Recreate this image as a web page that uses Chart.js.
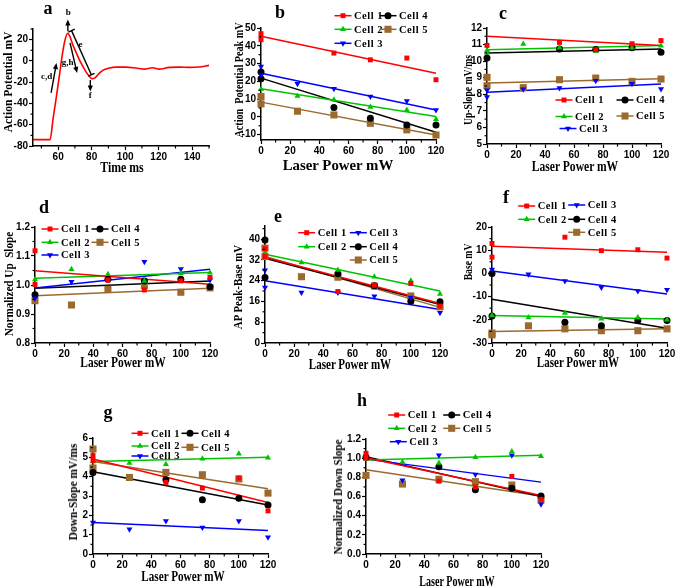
<!DOCTYPE html>
<html>
<head>
<meta charset="utf-8">
<script src="https://cdn.jsdelivr.net/npm/chart.js@4.4.0/dist/chart.umd.min.js"></script>
<style>
  html, body { margin: 0; padding: 0; background: #fff; }
  #page { position: relative; width: 675px; height: 587px; overflow: hidden; background: #fff; }
  canvas { position: absolute; }
  .lbl { position: absolute; font-family: 'Liberation Serif', 'Times New Roman', serif; font-weight: bold;
         color: #000; white-space: pre; line-height: 1; }
</style>
</head>
<body>
<div id="page"></div>
<script>
// values
var cells = ['Cell 1', 'Cell 2', 'Cell 3', 'Cell 4', 'Cell 5'];
var powerTicks = [0, 20, 40, 60, 80, 100, 120];
var fitX = [0, 120];

// a: action potential trace
var traceTime = [45, 55.2, 57, 59, 61, 62.5, 64, 65.7, 67, 68.7, 70.7, 72.7, 74.7, 76.7, 78.7, 80.2, 82, 84, 86.6, 90.6,
                 94.5, 100.5, 106.4, 111.4, 116.3, 120.3, 126.3, 132.2, 138.2, 144.1, 150];
var traceMv = [-74, -74, -54, -33, -11, 6, 19, 26, 23, 15.3, 8, 1, -5, -10.5, -14.6, -16.8, -16, -12.5, -8.9, -6.7,
               -5.8, -5.8, -6.7, -7.7, -6.4, -7.7, -6.1, -5.8, -6.1, -5.8, -4.2];
var aTimeTicks = [60, 80, 100, 120, 140];
var aMvTicks = [-80, -60, -40, -20, 0, 20];

// b: action potential peak (mV); points [power, value] per cell, fits [at 0, at 120]
var bPts = [
  [[0, 46.8], [0, 43.4], [50, 35.9], [75, 32.1], [100, 33.1], [120, 20.9]],
  [[0, 15.6], [25, 11.7], [50, 9.6], [75, 5.5], [100, 3.9], [120, -1.3]],
  [[0, 28.4], [0, 23.5], [25, 18.6], [50, 15.8], [75, 11.5], [100, 9], [120, 3.9]],
  [[0, 25.2], [0, 21.4], [50, 5.3], [75, -0.8], [100, -4.5], [120, -4.5]],
  [[0, 11.5], [0, 7.3], [25, 3.2], [50, 1.1], [75, -3.6], [100, -7.3], [120, -10.2]]
];
var bFit = [[45.3, 24.6], [15.8, 0.2], [24.6, 3.9], [21.8, -8.6], [8.3, -10.2]];
var bTicks = [-10, 0, 10, 20, 30, 40, 50];

// c: up-slope (mV/ms)
var cPts = [
  [[0, 10.95], [50, 11.13], [75, 10.69], [100, 11.05], [120, 11.24]],
  [[0, 10.65], [0, 10.5], [25, 11.03], [50, 10.81], [75, 10.59], [100, 10.81], [120, 10.93]],
  [[0, 8.24], [0, 7.83], [25, 8.3], [50, 8.38], [75, 8.82], [100, 8.64], [120, 8.32]],
  [[0, 10.19], [50, 10.73], [75, 10.7], [100, 10.81], [120, 10.53]],
  [[0, 9.02], [0, 8.52], [25, 8.4], [50, 8.88], [75, 8.98], [100, 8.78], [120, 8.92]]
];
var cFit = [[11.5, 10.95], [10.69, 10.95], [8.12, 8.62], [10.49, 10.73], [8.68, 8.94]];
var cTicks = [5, 6, 7, 8, 9, 10, 11, 12];

// d: normalized up slope
var dPts = [
  [[0, 1.118], [0, 1.002], [50, 1.017], [75, 0.983], [100, 1.014], [120, 1.026]],
  [[0, 1.019], [25, 1.054], [50, 1.037], [75, 1.014], [100, 1.04], [120, 1.042]],
  [[0, 0.954], [25, 1.011], [50, 1.02], [75, 1.08], [100, 1.055], [120, 1.017]],
  [[0, 0.966], [50, 1.02], [75, 1.014], [100, 1.02], [120, 0.994]],
  [[0, 0.946], [25, 0.931], [50, 0.985], [75, 0.998], [100, 0.975], [120, 0.99]]
];
var dFit = [[1.049, 1.003], [1.023, 1.043], [0.99, 1.054], [0.989, 1.014], [0.963, 0.989]];
var dTicks = [0.8, 0.9, 1.0, 1.1, 1.2];

// e: AP peak-base (mV)
var ePts = [
  [[0, 36.3], [0, 33.3], [50, 19.8], [75, 22.2], [100, 22.9], [120, 14.2]],
  [[0, 34.9], [25, 31], [50, 28.1], [75, 25.5], [100, 23.9], [120, 18.8]],
  [[0, 28], [0, 21.3], [25, 19.4], [50, 19.4], [75, 18], [100, 17.5], [120, 11.6]],
  [[0, 39.6], [0, 25.2], [50, 26.6], [75, 22], [100, 16.1], [120, 15.9]],
  [[0, 36.5], [0, 33.3], [25, 25.5], [50, 25.3], [75, 21.9], [100, 18.1], [120, 13.9]]
];
var eFit = [[33, 15.2], [34.1, 20], [23.9, 12.9], [32.6, 14.8], [33.3, 13.7]];
var eTicks = [0, 8, 16, 24, 32, 40];

// f: base (mV)
var fPts = [
  [[0, 12.9], [0, 7], [50, 15.6], [75, 9.8], [100, 10.2], [120, 6.6]],
  [[0, -18.1], [25, -19], [50, -17.1], [75, -19.6], [100, -19], [120, -20]],
  [[0, 1.7], [25, -0.4], [50, -3.3], [75, -6.1], [100, -7.6], [120, -7.1]],
  [[0, 0], [0, -18.4], [50, -21.1], [75, -22.6], [100, -20.3], [120, -20.3]],
  [[0, -25.7], [0, -26.5], [25, -22.6], [50, -23.9], [75, -24.7], [100, -24.7], [120, -23.9]]
];
var fFit = [[11.7, 9.1], [-18.1, -19.7], [1, -8.9], [-11.1, -23.6], [-25, -23.9]];
var fTicks = [-30, -20, -10, 0, 10, 20];

// g: down-slope (mV/ms)
var gPts = [
  [[0, 5.09], [0, 4.84], [50, 3.7], [75, 3.41], [100, 3.93], [120, 2.23]],
  [[0, 4.78], [25, 4.71], [50, 4.64], [75, 4.93], [100, 5.19], [120, 4.98]],
  [[0, 1.63], [25, 1.28], [50, 1.71], [75, 1.37], [100, 1.71], [120, 0.87]],
  [[0, 4.22], [50, 3.84], [75, 2.8], [100, 2.89], [120, 2.54]],
  [[0, 5.43], [0, 4.45], [25, 3.96], [50, 4.22], [75, 4.1], [100, 3.88], [120, 3.15]]
];
var gFit = [[4.91, 2.66], [4.78, 5.0], [1.63, 1.21], [4.26, 2.53], [4.78, 3.37]];
var gTicks = [0, 1, 2, 3, 4, 5, 6];

// h: normalized down slope
var hPts = [
  [[0, 1.05], [0, 1.0], [50, 0.76], [75, 0.7], [100, 0.81], [120, 0.57]],
  [[0, 0.99], [25, 0.96], [50, 0.95], [75, 1.01], [100, 1.07], [120, 1.02]],
  [[0, 1.0], [25, 0.77], [50, 1.03], [75, 0.83], [100, 1.03], [120, 0.52]],
  [[0, 1.01], [50, 0.91], [75, 0.67], [100, 0.685], [120, 0.605]],
  [[0, 0.82], [25, 0.73], [50, 0.78], [75, 0.755], [100, 0.72], [120, 0.565]]
];
var hFit = [[1.005, 0.61], [0.98, 1.03], [0.99, 0.75], [1.015, 0.6], [0.88, 0.605]];
var hTicks = [0, 0.2, 0.4, 0.6, 0.8, 1.0, 1.2];

// annotations on the trace (in data units)
var apArrows = [
  {from: [65.8, 28], to: [65.8, 39], head: true},
  {from: [68, 28.5], to: [79.8, -13], caps: true},
  {from: [67.1, 17], to: [71.3, -11.4], head: true},
  {from: [55.8, -30], to: [59, -2], head: true},
  {from: [79.2, -18], to: [79.2, -28.7], head: true}
];
var apNotes = [['b', 66, 45.5], ['e', 73.3, 15.3], ['g,h', 65.6, -2], ['c,d', 53.2, -14.6], ['f', 79.2, -33]];

// ---------------------------------------------------------------
var PAD_L = 35, PAD_R = 15, PAD_T = 35, PAD_B = 25;
var page = document.getElementById('page');

var cellStyles = [
  {color: '#ff0000', style: 'rect', r: 3.5, rot: 0},
  {color: '#00c400', style: 'triangle', r: 3.5, rot: 0},
  {color: '#0000ff', style: 'triangle', r: 3.5, rot: 180},
  {color: '#000000', style: 'circle', r: 3.5, rot: 0},
  {color: '#9c6a2e', style: 'rect', r: 5, rot: 0}
];

function drawMark(ctx, st, x, y) {
  var r = st.r;
  ctx.fillStyle = st.color;
  ctx.beginPath();
  if (st.style == 'rect') {
    var h = r * Math.SQRT1_2;
    ctx.rect(x - h, y - h, 2 * h, 2 * h);
  } else if (st.style == 'circle') {
    ctx.arc(x, y, r, 0, Math.PI * 2);
  } else {
    var d = st.rot ? -1 : 1;
    ctx.moveTo(x, y - d * r);
    ctx.lineTo(x + 0.866 * r, y + d * 0.5 * r);
    ctx.lineTo(x - 0.866 * r, y + d * 0.5 * r);
    ctx.closePath();
  }
  ctx.fill();
}

var minorTicks = {
  id: 'minorTicks',
  afterDraw: function (chart) {
    var ctx = chart.ctx, area = chart.chartArea;
    ctx.save();
    ctx.strokeStyle = '#000';
    ctx.lineWidth = 1.2;
    ['x', 'y'].forEach(function (id) {
      var sc = chart.scales[id];
      var vals = sc.ticks.map(function (t) { return t.value; });
      var step = vals[1] - vals[0];
      for (var v = vals[0] - step / 2; v <= sc.max + 1e-9; v += step) {
        if (v < sc.min - 1e-9) continue;
        var p = sc.getPixelForValue(v);
        ctx.beginPath();
        if (id == 'x') { ctx.moveTo(p, area.bottom); ctx.lineTo(p, area.bottom + 2.5); }
        else { ctx.moveTo(area.left - 2.5, p); ctx.lineTo(area.left, p); }
        ctx.stroke();
      }
    });
    ctx.restore();
  }
};

function legendPlugin(items, ox, oy) {
  return {
    id: 'cellLegend',
    afterDatasetsDraw: function (chart) {
      var ctx = chart.ctx;
      ctx.save();
      ctx.font = 'bold 10.5px "Liberation Serif"';
      ctx.letterSpacing = '0.5px';
      ctx.textBaseline = 'middle';
      items.forEach(function (p, i) {
        var x = p[0] - ox, y = p[1] - oy, st = cellStyles[i];
        ctx.strokeStyle = st.color;
        ctx.lineWidth = 1.5;
        ctx.beginPath();
        ctx.moveTo(x - 8.5, y);
        ctx.lineTo(x + 8.5, y);
        ctx.stroke();
        drawMark(ctx, st, x, y);
        ctx.fillStyle = '#000';
        ctx.fillText(cells[i], x + 11, y + 0.5);
      });
      ctx.restore();
    }
  };
}

var apNotesPlugin = {
  id: 'apNotes',
  afterDatasetsDraw: function (chart) {
    var ctx = chart.ctx, sx = chart.scales.x, sy = chart.scales.y;
    function px(p) { return [sx.getPixelForValue(p[0]), sy.getPixelForValue(p[1])]; }
    ctx.save();
    ctx.strokeStyle = '#000';
    ctx.fillStyle = '#000';
    ctx.lineWidth = 1.4;
    apArrows.forEach(function (a) {
      var f = px(a.from), t = px(a.to);
      var ang = Math.atan2(t[1] - f[1], t[0] - f[0]);
      var ex = a.head ? t[0] - Math.cos(ang) * 4 : t[0], ey = a.head ? t[1] - Math.sin(ang) * 4 : t[1];
      ctx.beginPath(); ctx.moveTo(f[0], f[1]); ctx.lineTo(ex, ey); ctx.stroke();
      if (a.head) {
        ctx.beginPath();
        ctx.moveTo(t[0], t[1]);
        ctx.lineTo(t[0] - Math.cos(ang) * 6 + Math.sin(ang) * 2.6, t[1] - Math.sin(ang) * 6 - Math.cos(ang) * 2.6);
        ctx.lineTo(t[0] - Math.cos(ang) * 6 - Math.sin(ang) * 2.6, t[1] - Math.sin(ang) * 6 + Math.cos(ang) * 2.6);
        ctx.closePath(); ctx.fill();
      }
      if (a.caps) {
        [f, t].forEach(function (q) {
          ctx.beginPath();
          ctx.moveTo(q[0] + Math.sin(ang) * 3.5, q[1] - Math.cos(ang) * 3.5);
          ctx.lineTo(q[0] - Math.sin(ang) * 3.5, q[1] + Math.cos(ang) * 3.5);
          ctx.stroke();
        });
      }
    });
    ctx.font = 'bold 9px "Liberation Serif"';
    ctx.textAlign = 'center';
    ctx.textBaseline = 'middle';
    apNotes.forEach(function (n) {
      var p = px([n[1], n[2]]);
      ctx.fillText(n[0], p[0], p[1]);
    });
    ctx.restore();
  }
};

function axis(min, max, ticks, dec, isX) {
  return {
    type: 'linear', min: min, max: max,
    afterBuildTicks: function (s) { s.ticks = ticks.map(function (v) { return {value: v}; }); },
    afterFit: function (s) { if (isX) s.height = PAD_B; else s.width = PAD_L; },
    border: {color: '#000', width: 1.5},
    grid: {display: true, drawOnChartArea: false, drawTicks: true, tickLength: 4, tickWidth: 1.2, tickColor: '#000'},
    ticks: {
      color: '#000', padding: 1, maxRotation: 0, autoSkip: false,
      font: {family: 'Liberation Sans', weight: 'bold', size: 10},
      callback: function (v) { return Number(v).toFixed(dec); }
    }
  };
}

function makeCanvas(box) {
  var cv = document.createElement('canvas');
  var cw = box[2] - box[0] + PAD_L + PAD_R, ch = box[3] - box[1] + PAD_T + PAD_B;
  cv.width = cw; cv.height = ch;
  cv.style.left = (box[0] - PAD_L) + 'px';
  cv.style.top = (box[1] - PAD_T) + 'px';
  cv.style.width = cw + 'px';
  cv.style.height = ch + 'px';
  page.appendChild(cv);
  return cv;
}

function baseOptions(xs, ys) {
  return {
    responsive: false, animation: false, events: [],
    layout: {padding: {left: 0, right: PAD_R, top: PAD_T, bottom: 0}, autoPadding: false},
    plugins: {legend: {display: false}, tooltip: {enabled: false}},
    scales: {x: xs, y: ys}
  };
}

function makePanel(p) {
  var cv = makeCanvas(p.box);
  var ds = [];
  p.pts.forEach(function (list, i) {
    var st = cellStyles[i];
    ds.push({
      data: list.map(function (q) { return {x: q[0], y: q[1]}; }),
      showLine: false, pointStyle: st.style, pointRadius: st.r, pointRotation: st.rot,
      backgroundColor: st.color, borderColor: st.color, borderWidth: 0, clip: false, order: 0
    });
    ds.push({
      data: fitX.map(function (x, k) { return {x: x, y: p.fit[i][k]}; }),
      showLine: true, pointRadius: 0, borderColor: st.color, borderWidth: 1.5, clip: false, order: 1
    });
  });
  new Chart(cv, {
    type: 'scatter',
    data: {datasets: ds},
    options: baseOptions(axis(0, 120, powerTicks, 0, true), axis(p.yr[0], p.yr[1], p.yt, p.dec, false)),
    plugins: [minorTicks, legendPlugin(p.legend, p.box[0] - PAD_L, p.box[1] - PAD_T)]
  });
}

// panel a
(function () {
  var box = [33, 29, 209, 146];
  var cv = makeCanvas(box);
  new Chart(cv, {
    type: 'scatter',
    data: {datasets: [{
      data: traceTime.map(function (t, i) { return {x: t, y: traceMv[i]}; }),
      showLine: true, pointRadius: 0, borderColor: '#ff0000', borderWidth: 1.6,
      cubicInterpolationMode: 'monotone', clip: false
    }]},
    options: baseOptions(axis(45, 150, aTimeTicks, 0, true), axis(-80, 30, aMvTicks, 0, false)),
    plugins: [minorTicks, apNotesPlugin]
  });
})();

var panels = [
  {box: [261, 28, 436, 140], yr: [-13, 50], yt: bTicks, dec: 0, pts: bPts, fit: bFit,
   legend: [[343, 15.7], [343, 29.3], [343, 43.3], [388, 15.7], [388, 29.3]]},
  {box: [487, 28, 661, 144], yr: [5, 12], yt: cTicks, dec: 0, pts: cPts, fit: cFit,
   legend: [[564, 100], [564, 116.5], [568, 128.5], [625, 100], [625, 116]]},
  {box: [35, 227, 210, 343], yr: [0.8, 1.2], yt: dTicks, dec: 1, pts: dPts, fit: dFit,
   legend: [[50, 229], [50, 242.3], [50, 255], [100, 229], [100, 242.3]]},
  {box: [265, 226, 440, 343], yr: [0, 45], yt: eTicks, dec: 0, pts: ePts, fit: eFit,
   legend: [[306.7, 232.7], [306.7, 246.7], [358.3, 232.7], [358.3, 246.7], [358.3, 260]]},
  {box: [492, 227, 667, 343], yr: [-30, 20], yt: fTicks, dec: 0, pts: fPts, fit: fFit,
   legend: [[526.7, 206], [526.7, 219.3], [576.7, 205], [576.7, 219.3], [576.7, 232.3]]},
  {box: [93, 438, 268, 554], yr: [0, 6], yt: gTicks, dec: 0, pts: gPts, fit: gFit,
   legend: [[140, 433.3], [140, 446], [140, 456], [190, 433.3], [190, 447.3]]},
  {box: [366, 439, 541, 554], yr: [0, 1.2], yt: hTicks, dec: 1, pts: hPts, fit: hFit,
   legend: [[396.7, 415], [396.7, 428.3], [398.3, 441.7], [451.7, 415], [451.7, 428.3]]}
];
panels.forEach(makePanel);

// text: panel letters and axis titles
function addText(str, cx, cy, size, target, vertical) {
  var el = document.createElement('div');
  el.className = 'lbl';
  el.textContent = str;
  el.style.fontSize = size + 'px';
  el.style.left = cx + 'px';
  el.style.top = cy + 'px';
  page.appendChild(el);
  var s = target ? target / el.offsetWidth : 1;
  el.style.transform = 'translate(-50%,-50%)' + (vertical ? ' rotate(-90deg)' : '') + ' scaleX(' + s.toFixed(3) + ')';
}

[['a', 48, 8], ['b', 280, 12], ['c', 503, 13], ['d', 44, 207], ['e', 278, 216], ['f', 506, 197],
 ['g', 108, 412], ['h', 362, 400]].forEach(function (l) { addText(l[0], l[1], l[2], 18, 0, false); });

addText('Time ms', 121.7, 167.7, 14, 43, false);
addText('Laser Power mW', 338.3, 165.7, 14, 110, false);
addText('Laser Power mW', 575, 166.7, 14, 86, false);
addText('Laser Power mW', 123.3, 362.7, 14, 85, false);
addText('Laser Power mW', 350, 365, 14, 82, false);
addText('Laser Power mW', 578.3, 363.3, 14, 82, false);
addText('Laser Power mW', 183.3, 576.7, 14, 83, false);
addText('Laser Power mW', 456.7, 581.7, 14, 75, false);

addText('Action Potential mV', 8, 82, 12, 101, true);
addText('Action  Potential Peak mV', 239, 80, 12, 115, true);
addText('Up-Slope mV/ms', 467.5, 90, 12, 70, true);
addText('Normalized Up  Slope', 9, 284, 12, 104, true);
addText('AP Peak-Base mV', 238, 286.7, 12, 84, true);
addText('Base mV', 467.5, 262, 12, 37, true);
addText('Down-Slope mV/ms', 72.5, 491.7, 12, 97, true);
addText('Normalized Down Slope', 337.5, 496.7, 12, 115, true);
</script>
</body>
</html>
